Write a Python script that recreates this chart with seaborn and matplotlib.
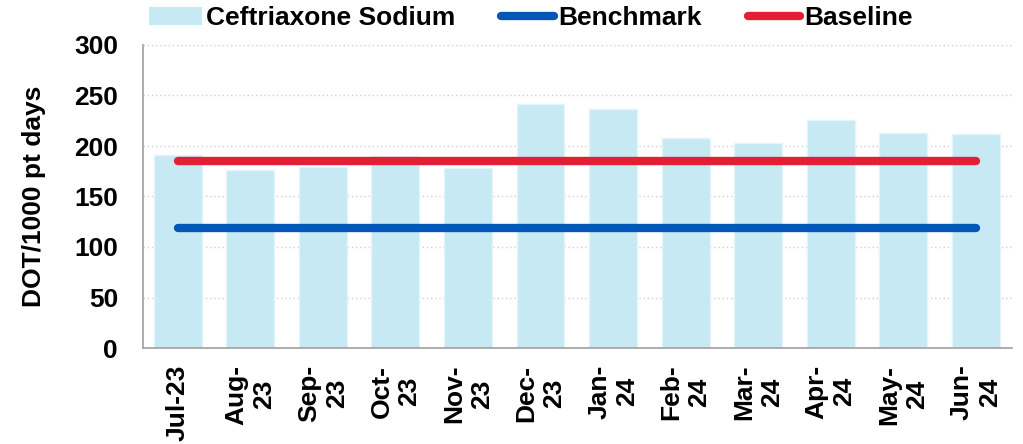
import matplotlib
matplotlib.use("Agg")
import matplotlib.pyplot as plt
import seaborn as sns
import pandas as pd
from matplotlib.lines import Line2D
from matplotlib.patches import Patch

months = ["Jul-23", "Aug-\n23", "Sep-\n23", "Oct-\n23", "Nov-\n23", "Dec-\n23",
          "Jan-\n24", "Feb-\n24", "Mar-\n24", "Apr-\n24", "May-\n24", "Jun-\n24"]
ceftriaxone = [191, 176, 179, 190, 178, 242, 237, 208, 203, 226, 213, 212]
benchmark = [119] * 12
baseline = [185] * 12

bar_color = "#C6E9F3"
bench_color = "#0057B8"
base_color = "#E31F35"
fs = 19

sns.set_theme(style="white")
plt.rcParams["font.family"] = ["Liberation Sans", "DejaVu Sans"]
plt.rcParams["font.weight"] = "bold"
for key in ["text.color", "axes.labelcolor", "xtick.color", "ytick.color"]:
    plt.rcParams[key] = "black"

df = pd.DataFrame({"month": months, "value": ceftriaxone})

fig, ax = plt.subplots(figsize=(10.23, 4.44), dpi=100)
fig.subplots_adjust(left=143 / 1023, right=1012 / 1023,
                    top=1 - 45 / 444, bottom=1 - 348 / 444)

sns.barplot(data=df, x="month", y="value", color=bar_color, width=0.66,
            edgecolor="#E4F4F9", linewidth=1, saturation=1, ax=ax)

x = list(range(len(months)))
ax.plot(x, benchmark, color=bench_color, lw=6, solid_capstyle="round", zorder=3)
ax.plot(x, baseline, color=base_color, lw=6, solid_capstyle="round", zorder=3)

ax.set_xlim(-0.48, len(months) - 0.5)
ax.set_ylim(0, 300)
ax.set_yticks(range(0, 301, 50))
ax.yaxis.grid(True, linestyle=(0, (1, 2)), color="#D0D0D0", linewidth=1)
ax.set_axisbelow(True)

for side in ["top", "right"]:
    ax.spines[side].set_visible(False)
for side in ["left", "bottom"]:
    ax.spines[side].set_color("#A0A0A0")
    ax.spines[side].set_linewidth(1.2)

ax.set_xlabel("")
ax.set_ylabel("DOT/1000 pt days", fontsize=fs, fontweight="bold", labelpad=20,
              color="black")
ax.tick_params(axis="y", labelsize=fs, length=0, pad=18, labelcolor="black")
ax.tick_params(axis="x", labelsize=fs, length=0, pad=12, labelcolor="black")
ax.set_xticks(x)
ax.set_xticklabels(months, rotation=90, fontweight="bold", ha="center", va="top",
                   multialignment="center", linespacing=1.2)
for lbl in ax.get_yticklabels():
    lbl.set_fontweight("bold")

handles = [
    Patch(facecolor=bar_color, edgecolor="none"),
    Line2D([0], [0], color=bench_color, lw=6, solid_capstyle="round"),
    Line2D([0], [0], color=base_color, lw=6, solid_capstyle="round"),
]
labels = ["Ceftriaxone Sodium", "Benchmark", "Baseline"]
fig.legend(handles, labels, loc="center left", bbox_to_anchor=(149 / 1023, 1 - 18 / 444),
           ncol=3, frameon=False, prop={"size": fs, "weight": "bold"},
           labelcolor="black", borderpad=0, borderaxespad=0, handlelength=2.0,
           handleheight=0.65, handletextpad=0.15, columnspacing=1.75)

fig.savefig("out.png", dpi=100)
